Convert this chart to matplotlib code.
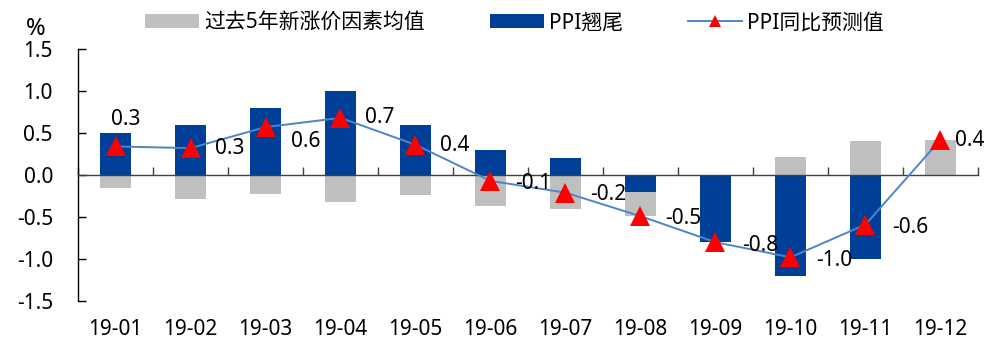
import matplotlib
matplotlib.use("Agg")
import matplotlib.pyplot as plt
import numpy as np
from matplotlib.lines import Line2D
from matplotlib.patches import Patch

plt.rcParams["font.family"] = ["Noto Sans", "Noto Sans CJK SC", "DejaVu Sans"]

# ---- data ----
months = ["19-01", "19-02", "19-03", "19-04", "19-05", "19-06",
          "19-07", "19-08", "19-09", "19-10", "19-11", "19-12"]
tail_effect = [0.5, 0.6, 0.8, 1.0, 0.6, 0.3, 0.2, -0.2, -0.8, -1.2, -1.0, 0.0]
new_factor_avg = [-0.16, -0.28, -0.23, -0.32, -0.24, -0.37, -0.41, -0.29,
                  0.0, 0.22, 0.41, 0.42]
ppi_forecast = [0.34, 0.32, 0.57, 0.68, 0.36, -0.07, -0.21, -0.49,
                -0.80, -0.98, -0.59, 0.42]
y_ticks = [-1.5, -1.0, -0.5, 0.0, 0.5, 1.0, 1.5]

legend_labels = ["过去5年新涨价因素均值", "PPI翘尾", "PPI同比预测值"]

# value-label placement (pixel offsets from each marker)
label_dx = [-5, 25, 25, 25, 25, 25, 25, 25, 27, 26, 27, 15]
label_dy = [27, 0, -14, 0, -1, -3, -2, -2, -3, -3, -3, -1]

# ---- style ----
GREY = "#BFBFBF"
BLUE = "#003F98"
LINE = "#4F84C8"
RED = "#FF0000"
FS = 15

fig = plt.figure(figsize=(9.95, 3.40), dpi=100)
ax = fig.add_axes([78 / 995, 1 - 301 / 340, 900 / 995, 252 / 340])

x = np.arange(len(months))
tail = np.array(tail_effect)
grey = np.array(new_factor_avg)
# stack like a spreadsheet: same-sign values pile on, opposite signs start at 0
grey_bottom = np.where(np.sign(grey) == np.sign(tail), tail, 0.0)

width = 0.42
ax.bar(x, tail, width, color=BLUE, zorder=2)
ax.bar(x, grey, width, bottom=grey_bottom, color=GREY, zorder=2)

ax.plot(x, ppi_forecast, color=LINE, lw=1.4, zorder=3)
ax.plot(x, ppi_forecast, linestyle="none", marker="^", markersize=14.5,
        color=RED, markeredgewidth=0, zorder=4)

for i, v in enumerate(ppi_forecast):
    ax.annotate(f"{v:.1f}", (x[i], v), xytext=(label_dx[i], label_dy[i]),
                textcoords="offset pixels", ha="left", va="center",
                fontsize=FS, color="black", zorder=5)

# axes
ax.set_xlim(-0.5, len(months) - 0.5)
ax.set_ylim(-1.5, 1.5)
ax.set_yticks(y_ticks)
ax.set_yticklabels([f"{t:.1f}" for t in y_ticks])
ax.tick_params(axis="y", direction="in", length=6, width=1, pad=18,
               labelsize=FS, colors="black")

ax.spines["top"].set_visible(False)
ax.spines["right"].set_visible(False)
ax.spines["left"].set_color("black")
ax.spines["left"].set_linewidth(1)
ax.spines["bottom"].set_position(("data", 0))
ax.spines["bottom"].set_color("#404040")
ax.spines["bottom"].set_linewidth(1)
ax.set_xticks(np.arange(-0.5, len(months), 1))
ax.tick_params(axis="x", direction="in", length=6, width=1,
               labelbottom=False, color="#404040")

cat = ax.secondary_xaxis("bottom")
cat.set_xticks(x)
cat.set_xticklabels(months)
cat.tick_params(length=0, pad=13, labelsize=FS, colors="black")
cat.spines["bottom"].set_visible(False)

fig.text(36 / 995, 1 - 29 / 340, "%", ha="center", va="center", fontsize=17)

handles = [
    Patch(facecolor=GREY, edgecolor="none"),
    Patch(facecolor=BLUE, edgecolor="none"),
    Line2D([0], [0], color=LINE, lw=1.4, marker="^", markersize=14.5,
           markerfacecolor=RED, markeredgewidth=0),
]
fig.legend(handles, legend_labels, loc="center", bbox_to_anchor=(0.517, 0.933),
           ncol=3, frameon=False, fontsize=FS, handlelength=2.6,
           handleheight=0.72, handletextpad=0.25, columnspacing=3.1,
           markerscale=0.6, borderpad=0, borderaxespad=0)

fig.savefig("out.png", dpi=100)
